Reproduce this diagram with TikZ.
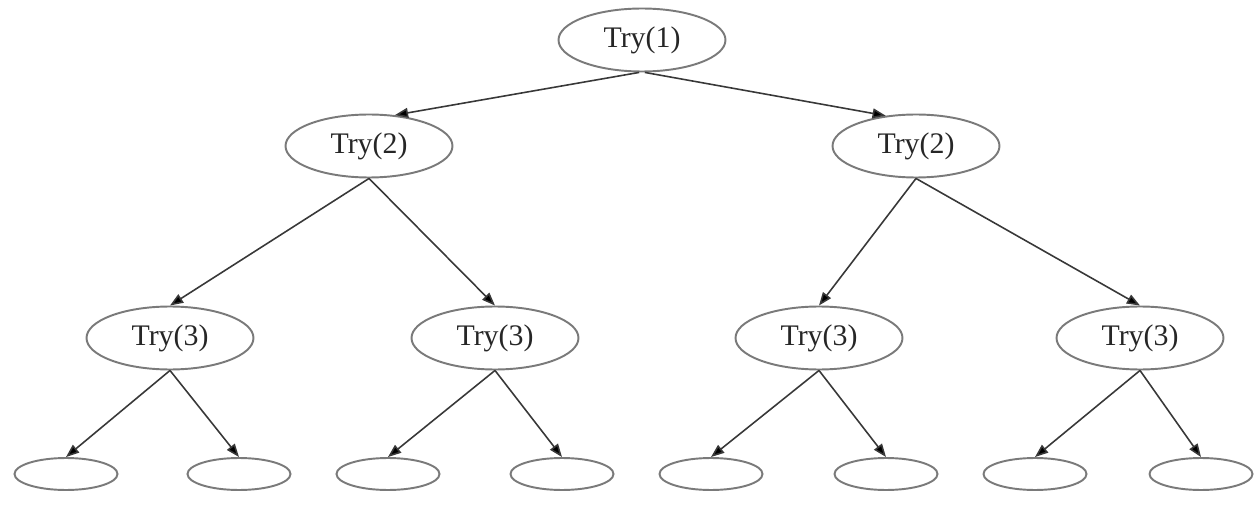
\documentclass[tikz,border=0pt]{standalone}
\usepackage{fontspec}
\setmainfont{Liberation Serif}
\usetikzlibrary{shapes.geometric,arrows.meta}
\definecolor{rim}{HTML}{7A7A7A}
\definecolor{wire}{HTML}{383838}
\definecolor{ink}{HTML}{262626}
\begin{document}
\begin{tikzpicture}[x=0.02cm,y=-0.02cm,
  call/.style={ellipse,draw=rim,line width=1.1pt,inner sep=0pt,
    minimum width=3.34cm,minimum height=1.26cm,
    text=ink,font=\fontsize{17}{20}\selectfont},
  leaf/.style={ellipse,draw=rim,line width=1.1pt,inner sep=0pt,
    minimum width=2.06cm,minimum height=0.64cm},
  edge/.style={draw=wire,line width=0.9pt,
    -{Triangle[length=7.5pt,width=5.6pt,fill=black]}}]
\useasboundingbox (0,0) rectangle (1254,530);

% call tree
\node[call] (r)  at (642,40)  {Try(1)};
\node[call] (a)  at (369,146) {Try(2)};
\node[call] (b)  at (916,146) {Try(2)};
\node[call] (c1) at (170,338) {Try(3)};
\node[call] (c2) at (495,338) {Try(3)};
\node[call] (c3) at (819,338) {Try(3)};
\node[call] (c4) at (1140,338) {Try(3)};

% empty leaves
\node[leaf] (l1) at (66,474)   {};
\node[leaf] (l2) at (239,474)  {};
\node[leaf] (l3) at (388,474)  {};
\node[leaf] (l4) at (562,474)  {};
\node[leaf] (l5) at (711,474)  {};
\node[leaf] (l6) at (886,474)  {};
\node[leaf] (l7) at (1035,474) {};
\node[leaf] (l8) at (1201,474) {};

% edges
\draw[edge] (r.265) -- (a.50);
\draw[edge] (r.275) -- (b.135);
\draw[edge] (a.south) -- (c1.north);
\draw[edge] (a.south) -- (c2.north);
\draw[edge] (b.south) -- (c3.north);
\draw[edge] (b.south) -- (c4.north);
\draw[edge] (c1.south) -- (l1.north);
\draw[edge] (c1.south) -- (l2.north);
\draw[edge] (c2.south) -- (l3.north);
\draw[edge] (c2.south) -- (l4.north);
\draw[edge] (c3.south) -- (l5.north);
\draw[edge] (c3.south) -- (l6.north);
\draw[edge] (c4.south) -- (l7.north);
\draw[edge] (c4.south) -- (l8.north);
\end{tikzpicture}
\end{document}
